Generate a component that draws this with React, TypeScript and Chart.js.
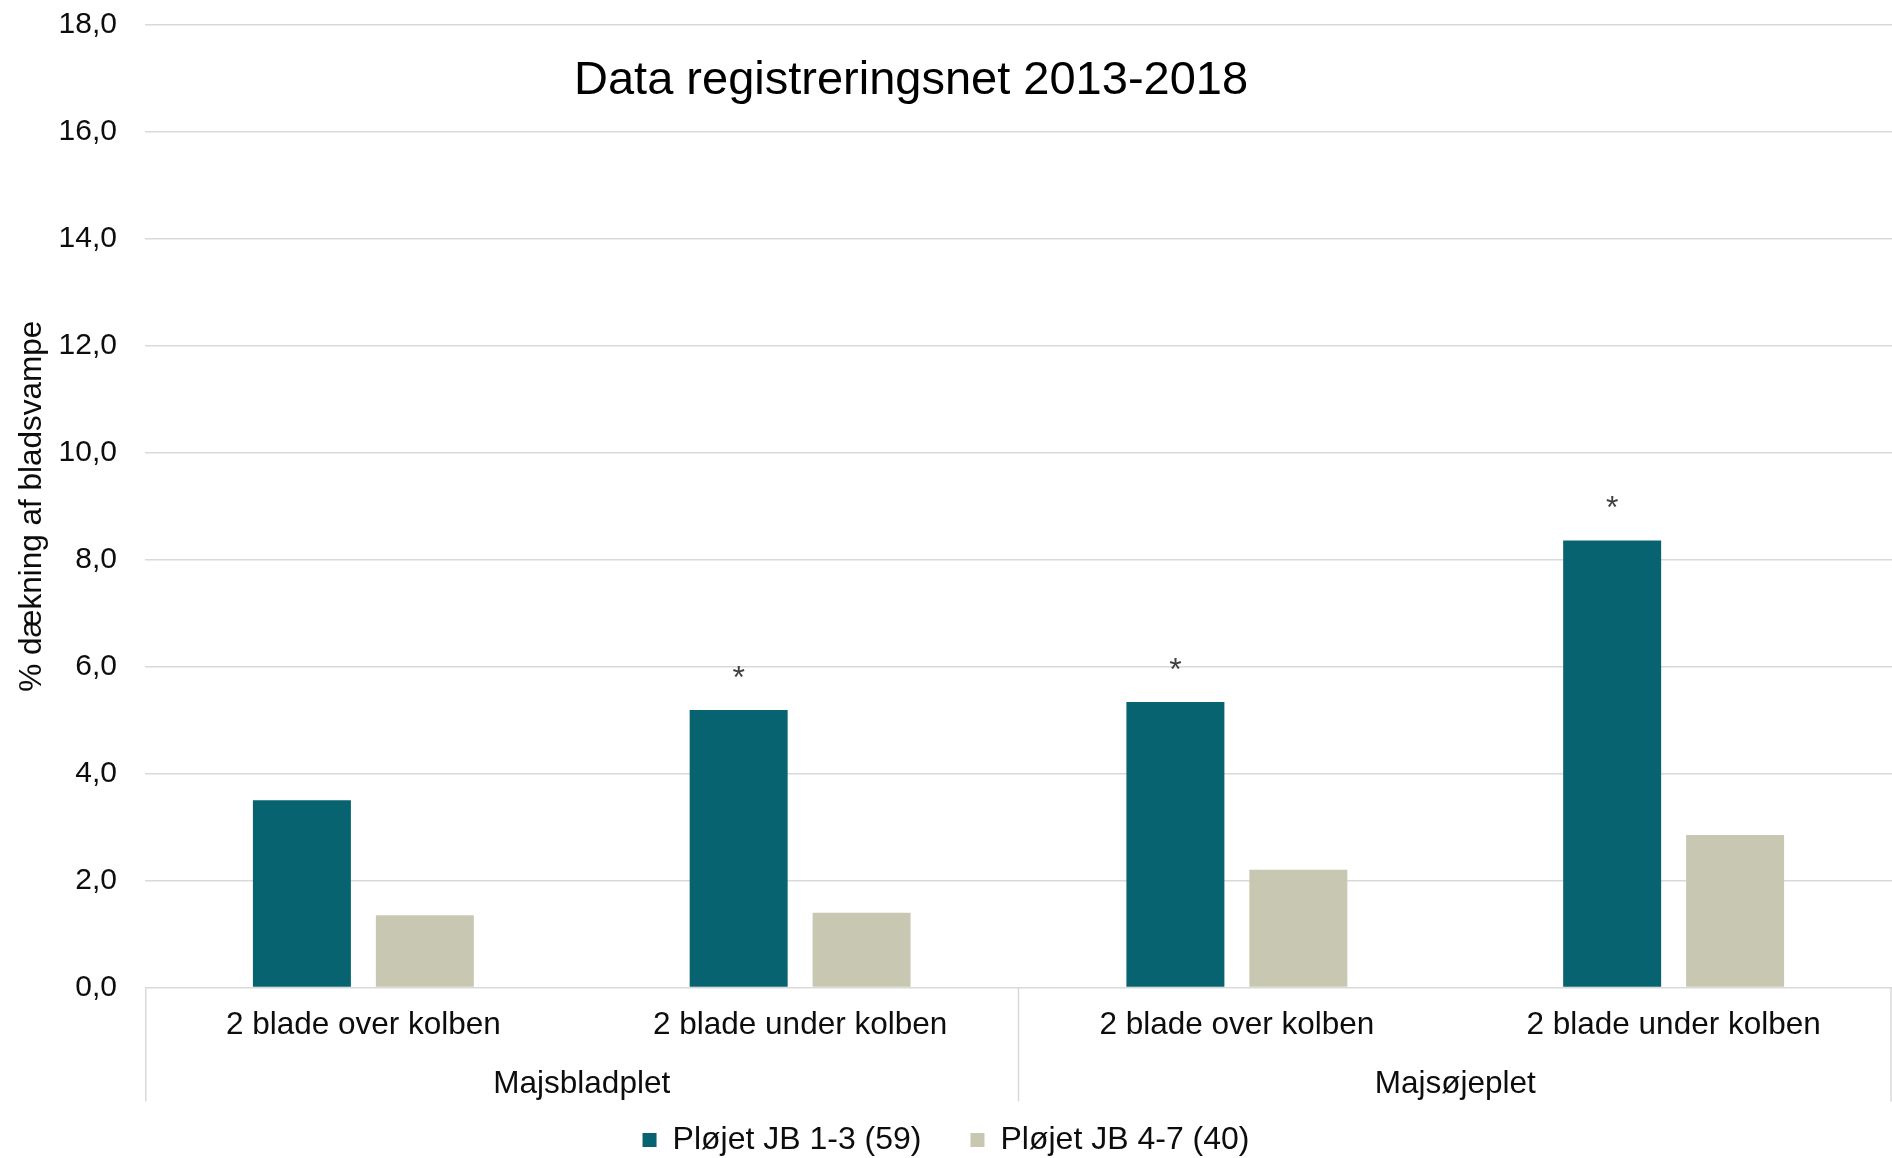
import { useEffect, useRef } from 'react';
import { Chart, registerables } from 'chart.js';

Chart.register(...registerables);

const chartTitle = 'Data registreringsnet 2013-2018';
const yAxisTitle = '% dækning af bladsvampe';
const categories = ['2 blade over kolben', '2 blade under kolben', '2 blade over kolben', '2 blade under kolben'];
const groups = ['Majsbladplet', 'Majsøjeplet'];
const seriesNames = ['Pløjet JB 1-3 (59)', 'Pløjet JB 4-7 (40)'];
const jb13 = [3.5, 5.19, 5.34, 8.36];
const jb47 = [1.35, 1.4, 2.2, 2.85];
const significance = ['', '*', '*', '*'];
const yMin = 0;
const yMax = 18;
const yStep = 2;

const FONT = '"Liberation Sans", Arial, sans-serif';
const TEXT = '#0d0d0d';
const GRID = '#d9d9d9';

const titlePlugin = {
  id: 'insideTitle',
  afterDraw(chart: any) {
    const { ctx, chartArea } = chart;
    ctx.save();
    ctx.font = `47px ${FONT}`;
    ctx.fillStyle = '#000';
    ctx.textAlign = 'center';
    ctx.textBaseline = 'middle';
    ctx.fillText(chartTitle, chartArea.left + chartArea.width * 0.4385, chartArea.top + 56);
    ctx.restore();
  },
};

const starPlugin = {
  id: 'stars',
  afterDatasetsDraw(chart: any) {
    const { ctx } = chart;
    const meta = chart.getDatasetMeta(0);
    ctx.save();
    ctx.font = `32px ${FONT}`;
    ctx.fillStyle = '#404040';
    ctx.textAlign = 'center';
    ctx.textBaseline = 'alphabetic';
    meta.data.forEach((bar: any, i: number) => {
      if (significance[i]) ctx.fillText(significance[i], bar.x, bar.y - 22);
    });
    ctx.restore();
  },
};

const groupAxisPlugin = {
  id: 'groupAxis',
  afterDraw(chart: any) {
    const { ctx, chartArea } = chart;
    const x = chart.scales.x;
    const x2 = chart.scales.x2;
    const mid = (x.getPixelForTick(1) + x.getPixelForTick(2)) / 2;
    const xs = [chartArea.left + 0.75, mid, chartArea.right - 1];
    ctx.save();
    ctx.strokeStyle = GRID;
    ctx.lineWidth = 1.5;
    xs.forEach((px) => {
      ctx.beginPath();
      ctx.moveTo(px, chartArea.bottom);
      ctx.lineTo(px, chartArea.bottom + 114);
      ctx.stroke();
    });
    ctx.font = `31.5px ${FONT}`;
    ctx.fillStyle = TEXT;
    ctx.textAlign = 'center';
    ctx.textBaseline = 'middle';
    x2.getLabels().forEach((lab: string, i: number) => {
      ctx.fillText(lab, x2.getPixelForTick(i), chartArea.bottom + 97);
    });
    ctx.restore();
  },
};

export default function App() {
  const ref = useRef<HTMLCanvasElement | null>(null);

  useEffect(() => {
    if (!ref.current) return;
    const chart = new Chart(ref.current, {
      type: 'bar',
      data: {
        labels: categories,
        datasets: [
          {
            label: seriesNames[0],
            data: jb13,
            backgroundColor: '#06636f',
            borderWidth: 0,
            categoryPercentage: 0.563,
            barPercentage: 0.797,
          },
          {
            label: seriesNames[1],
            data: jb47,
            backgroundColor: '#c8c8b2',
            borderWidth: 0,
            categoryPercentage: 0.563,
            barPercentage: 0.797,
          },
        ],
      },
      options: {
        animation: false,
        responsive: true,
        maintainAspectRatio: false,
        layout: { padding: { top: 25, left: 0, right: 0, bottom: -8 } },
        plugins: {
          title: { display: false },
          tooltip: { enabled: false },
          legend: {
            display: true,
            position: 'bottom',
            labels: {
              boxWidth: 14,
              boxHeight: 14,
              padding: 49,
              color: TEXT,
              font: { family: FONT, size: 32 },
            },
          },
        },
        scales: {
          x: {
            type: 'category',
            position: 'bottom',
            offset: true,
            grid: { display: false },
            border: { display: false },
            ticks: {
              color: TEXT,
              font: { family: FONT, size: 31.5 },
              padding: 10.5,
              maxRotation: 0,
              autoSkip: false,
            },
            afterFit(scale: any) {
              scale.height = 54;
            },
          },
          x2: {
            type: 'category',
            position: 'bottom',
            labels: groups,
            offset: true,
            weight: 1,
            grid: { display: false },
            border: { display: false },
            ticks: { display: false },
            afterFit(scale: any) {
              scale.height = 33.5;
            },
          },
          y: {
            min: yMin,
            max: yMax,
            ticks: {
              stepSize: yStep,
              color: TEXT,
              font: { family: FONT, size: 30 },
              padding: 3,
              callback: (v: any) => Number(v).toFixed(1).replace('.', ','),
            },
            grid: {
              color: GRID,
              lineWidth: 1.5,
              drawTicks: true,
              tickLength: 25,
              tickColor: 'rgba(0,0,0,0)',
            },
            border: { display: false },
            title: {
              display: true,
              text: yAxisTitle,
              color: TEXT,
              font: { family: FONT, size: 31.5 },
              padding: { top: 13, bottom: 0 },
            },
            afterFit(scale: any) {
              scale.width = 145;
            },
          },
        },
      },
      plugins: [titlePlugin, starPlugin, groupAxisPlugin],
    } as any);
    return () => chart.destroy();
  }, []);

  return (
    <div style={{ position: 'fixed', left: 0, top: 0, width: 1892, height: 1158, background: '#fff' }}>
      <canvas ref={ref} />
    </div>
  );
}
